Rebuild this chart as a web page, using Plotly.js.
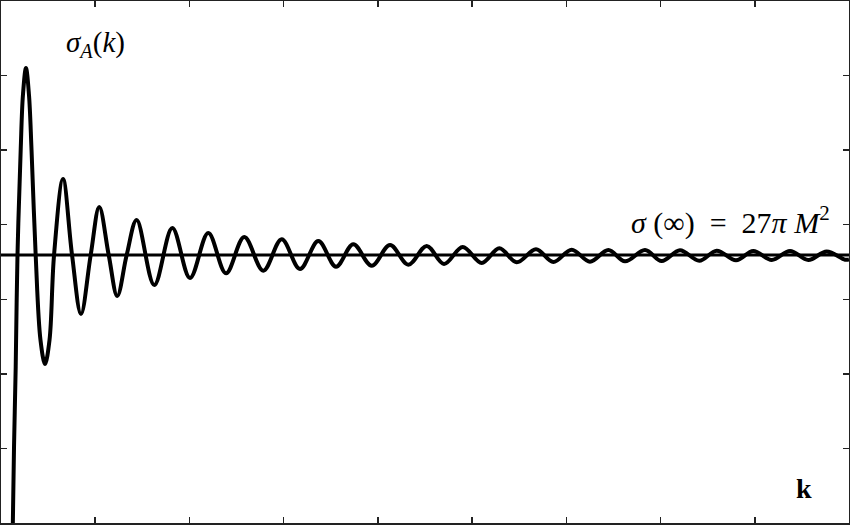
<!DOCTYPE html>
<html>
<head>
<meta charset="utf-8">
<script src="https://cdn.plot.ly/plotly-3.0.1.min.js"></script>
<style>
  html, body { margin: 0; padding: 0; background: #fff; }
  #chart { width: 850px; height: 526px; }
</style>
</head>
<body>
<div id="chart"></div>
<script>
// sigma_A(k) (peaks, troughs and a few crossings)
const k = [
  0.122, 0.138, 0.156, 0.175, 0.209, 0.233, 0.265, 0.297, 0.324, 0.368,
  0.419, 0.467, 0.515, 0.563, 0.658, 0.754, 0.849, 0.952, 1.043, 1.143,
  1.234, 1.334, 1.440, 1.627, 1.818, 2.006, 2.200, 2.388, 2.582, 2.784,
  2.979, 3.173, 3.368, 3.556, 3.739, 3.934, 4.129, 4.323, 4.518, 4.702,
  4.900, 5.102, 5.289, 5.473, 5.678, 5.862, 6.057, 6.251, 6.446, 6.623,
  6.835, 7.012, 7.206, 7.411, 7.596, 7.801, 7.984, 8.180, 8.374, 8.568,
  8.763, 8.958, 9.000
];
const sigmaA = [
  -0.295, 1.006, 2.092, 3.594, 5.002, 5.740, 6.102, 5.740, 5.002, 3.594,
  2.454, 2.132, 2.454, 3.594, 4.613, 3.594, 2.803, 3.594, 4.238, 3.594,
  3.044, 3.594, 4.063, 3.192, 3.956, 3.286, 3.889, 3.349, 3.835, 3.383,
  3.804, 3.406, 3.782, 3.437, 3.737, 3.450, 3.728, 3.464, 3.715, 3.473,
  3.701, 3.487, 3.684, 3.496, 3.670, 3.500, 3.665, 3.504, 3.661, 3.509,
  3.661, 3.513, 3.657, 3.517, 3.652, 3.523, 3.648, 3.527, 3.648, 3.527,
  3.641, 3.531, 3.533
];
// geometric limit sigma(inf)
const kLine = [0, 9];
const sigmaInf = [3.594, 3.594];

const xTicks = [1, 2, 3, 4, 5, 6, 7, 8];
const yTicks = [1, 2, 3, 4, 5, 6];

const curve = {
  x: k, y: sigmaA,
  type: 'scatter', mode: 'lines',
  line: { color: '#000', width: 4, shape: 'spline', smoothing: 1 },
  hoverinfo: 'skip'
};
const limit = {
  x: kLine, y: sigmaInf,
  type: 'scatter', mode: 'lines',
  line: { color: '#000', width: 3 },
  hoverinfo: 'skip'
};

const axisStyle = {
  showgrid: false, zeroline: false,
  showline: true, linecolor: '#222', linewidth: 2, mirror: 'ticks',
  ticks: 'inside', ticklen: 6, tickwidth: 1.5, tickcolor: '#222',
  showticklabels: false, tickmode: 'array'
};

const layout = {
  width: 850, height: 526,
  margin: { l: 1, r: 1, t: 1, b: 3, pad: 0 },
  paper_bgcolor: '#fff', plot_bgcolor: '#fff',
  showlegend: false,
  xaxis: Object.assign({}, axisStyle, { range: [0, 9], tickvals: xTicks }),
  yaxis: Object.assign({}, axisStyle, { range: [0, 7], tickvals: yTicks }),
  font: { family: 'Liberation Serif, serif', color: '#000' },
  annotations: [
    {
      text: '<i>σ</i><sub><i>A</i></sub>(<i>k</i>)',
      xref: 'paper', yref: 'paper', x: 0.111, y: 0.918,
      xanchor: 'center', yanchor: 'middle', showarrow: false,
      font: { size: 29 }
    },
    {
      text: '<i>σ</i> (∞)&nbsp;&nbsp;=&nbsp;&nbsp;27<i>π</i> <i>M</i><sup>2</sup>',
      xref: 'paper', yref: 'paper', x: 0.980, y: 0.580,
      xanchor: 'right', yanchor: 'middle', showarrow: false,
      font: { size: 30 }
    },
    {
      text: '<b>k</b>',
      xref: 'paper', yref: 'paper', x: 0.9475, y: 0.067,
      xanchor: 'center', yanchor: 'middle', showarrow: false,
      font: { size: 28 }
    }
  ]
};

Plotly.newPlot('chart', [curve, limit], layout, { displayModeBar: false, staticPlot: true });
</script>
</body>
</html>
